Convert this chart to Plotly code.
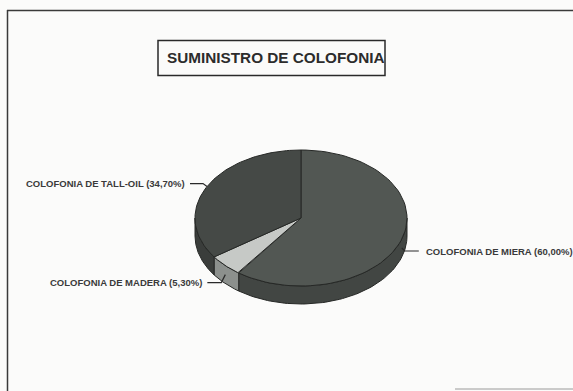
import numpy as np
import plotly.graph_objects as go

# Supply shares of rosin (colofonia) by origin, in percent
categories = ["COLOFONIA DE MIERA", "COLOFONIA DE MADERA", "COLOFONIA DE TALL-OIL"]
shares = [60.00, 5.30, 34.70]
title_text = "SUMINISTRO DE COLOFONIA"

# Styling per slice: top face colour, side face colour
top_colors = ["#525753", "#c6c9c6", "#454946"]
side_colors = ["#424643", "#8c908d", "#3a3d3b"]
# Label placement relative to the leader anchor (dx, dy in px)
label_offsets = [(17, 3), (-18, 8), (-17, -3)]

W, H = 573, 391
cx, cy, rx, ry, depth = 301, 218, 106, 68, 18


def ellipse_pts(a0, a1, n=80, dy=0.0):
    t = np.radians(np.linspace(a0, a1, n))
    return cx + rx * np.sin(t), cy - ry * np.cos(t) + dy


fig = go.Figure()

# Slice angle extents, clockwise from 12 o'clock
total = sum(shares)
bounds = []
start = 0.0
for v in shares:
    span = 360.0 * v / total
    bounds.append((start, start + span))
    start += span

outline = dict(color="#262826", width=1)

# Side walls (only the front half, 90..270 deg, is visible)
for (a0, a1), col in zip(bounds, side_colors):
    s0, s1 = max(a0, 90.0), min(a1, 270.0)
    if s1 <= s0:
        continue
    xt, yt = ellipse_pts(s0, s1)
    xb, yb = ellipse_pts(s1, s0, dy=depth)
    fig.add_trace(go.Scatter(
        x=np.concatenate([xt, xb, xt[:1]]), y=np.concatenate([yt, yb, yt[:1]]),
        mode="lines", fill="toself", fillcolor=col, line=outline,
        hoverinfo="skip", showlegend=False))

# Top wedges
for (a0, a1), col in zip(bounds, top_colors):
    xa, ya = ellipse_pts(a0, a1)
    fig.add_trace(go.Scatter(
        x=np.concatenate([[cx], xa, [cx]]), y=np.concatenate([[cy], ya, [cy]]),
        mode="lines", fill="toself", fillcolor=col, line=outline,
        hoverinfo="skip", showlegend=False))

# Leader lines and category labels
annotations = []
for name, v, (a0, a1), (dx, dy) in zip(categories, shares, bounds, label_offsets):
    mid = np.radians((a0 + a1) / 2)
    ax = cx + rx * np.sin(mid)
    ay = cy - ry * np.cos(mid)
    if np.cos(mid) < 0:
        ay += depth * 0.5
    ex, ey = ax + dx, ay + dy
    if dx > 0:
        lx = [ax, ax + 3, ex]
    else:
        lx = [ax, ax - 4, ex]
    ly = [ay, ey, ey]
    fig.add_trace(go.Scatter(x=lx, y=ly, mode="lines",
                             line=dict(color="#2a2a2a", width=1.2),
                             hoverinfo="skip", showlegend=False))
    label = f"{name} ({v:.2f}%)".replace(".", ",")
    annotations.append(dict(
        x=ex + (5 if dx > 0 else -3), y=ey, xref="x", yref="y",
        text=f"<b>{label}</b>", showarrow=False,
        xanchor="left" if dx > 0 else "right", yanchor="middle",
        font=dict(family="Liberation Sans, Arial", size=9.5, color="#3a3a3a")))

annotations.append(dict(
    x=276, y=57, xref="x", yref="y", text=f"<b>{title_text}</b>",
    showarrow=False, xanchor="center", yanchor="middle",
    font=dict(family="Liberation Sans, Arial", size=15.3, color="#2c2c2c")))

shapes = [
    # outer frame
    dict(type="line", x0=7, y0=10.5, x1=W + 5, y1=10.5, xref="x", yref="y",
         line=dict(color="#3a3a3a", width=1.5)),
    dict(type="line", x0=7.5, y0=10, x1=7.5, y1=H + 5, xref="x", yref="y",
         line=dict(color="#3a3a3a", width=1.5)),
    dict(type="line", x0=455, y0=389, x1=W + 5, y1=389, xref="x", yref="y",
         line=dict(color="#9a9a9a", width=1)),
    # title box
    dict(type="rect", x0=158, y0=40.5, x1=385, y1=75.5, xref="x", yref="y",
         line=dict(color="#2a2a2a", width=1.5), fillcolor="rgba(0,0,0,0)"),
]

fig.update_layout(
    width=W, height=H,
    margin=dict(l=0, r=0, t=0, b=0),
    paper_bgcolor="#fbfbfa", plot_bgcolor="#fbfbfa",
    xaxis=dict(range=[0, W], visible=False, fixedrange=True),
    yaxis=dict(range=[H, 0], visible=False, fixedrange=True),
    shapes=shapes, annotations=annotations,
)

fig.write_html("out.html")
